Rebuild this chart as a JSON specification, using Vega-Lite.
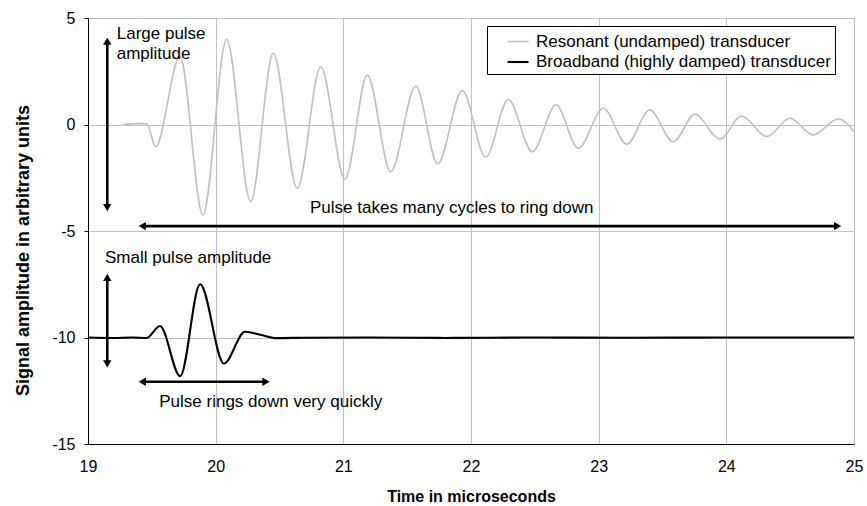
{
  "$schema": "https://vega.github.io/schema/vega-lite/v6.json",
  "width": 766,
  "height": 426,
  "autosize": {"type": "none"},
  "padding": {"left": 88, "top": 18, "right": 13, "bottom": 62},
  "background": "white",
  "datasets": {
    "signal": [
      {"t": 19.0, "amp": -10.0, "series": "Broadband (highly damped) transducer"},
      {"t": 19.2, "amp": -10.02, "series": "Broadband (highly damped) transducer"},
      {"t": 19.35, "amp": -10.0, "series": "Broadband (highly damped) transducer"},
      {"t": 19.46, "amp": -10.02, "series": "Broadband (highly damped) transducer"},
      {"t": 19.564, "amp": -9.46, "series": "Broadband (highly damped) transducer"},
      {"t": 19.722, "amp": -11.82, "series": "Broadband (highly damped) transducer"},
      {"t": 19.878, "amp": -7.5, "series": "Broadband (highly damped) transducer"},
      {"t": 20.065, "amp": -11.22, "series": "Broadband (highly damped) transducer"},
      {"t": 20.23, "amp": -9.73, "series": "Broadband (highly damped) transducer"},
      {"t": 20.35, "amp": -9.87, "series": "Broadband (highly damped) transducer"},
      {"t": 20.48, "amp": -10.03, "series": "Broadband (highly damped) transducer"},
      {"t": 20.7, "amp": -10.01, "series": "Broadband (highly damped) transducer"},
      {"t": 21.2, "amp": -10.0, "series": "Broadband (highly damped) transducer"},
      {"t": 21.8, "amp": -10.02, "series": "Broadband (highly damped) transducer"},
      {"t": 22.5, "amp": -10.0, "series": "Broadband (highly damped) transducer"},
      {"t": 23.2, "amp": -10.01, "series": "Broadband (highly damped) transducer"},
      {"t": 24.0, "amp": -10.0, "series": "Broadband (highly damped) transducer"},
      {"t": 25.0, "amp": -10.0, "series": "Broadband (highly damped) transducer"},
      {"t": 19.276, "amp": 0.0, "series": "Resonant (undamped) transducer"},
      {"t": 19.4, "amp": 0.04, "series": "Resonant (undamped) transducer"},
      {"t": 19.46, "amp": 0.03, "series": "Resonant (undamped) transducer"},
      {"t": 19.53, "amp": -1.04, "series": "Resonant (undamped) transducer"},
      {"t": 19.72, "amp": 3.2, "series": "Resonant (undamped) transducer"},
      {"t": 19.9, "amp": -4.25, "series": "Resonant (undamped) transducer"},
      {"t": 20.086, "amp": 4.0, "series": "Resonant (undamped) transducer"},
      {"t": 20.274, "amp": -3.62, "series": "Resonant (undamped) transducer"},
      {"t": 20.451, "amp": 3.34, "series": "Resonant (undamped) transducer"},
      {"t": 20.639, "amp": -3.0, "series": "Resonant (undamped) transducer"},
      {"t": 20.823, "amp": 2.71, "series": "Resonant (undamped) transducer"},
      {"t": 21.013, "amp": -2.57, "series": "Resonant (undamped) transducer"},
      {"t": 21.188, "amp": 2.32, "series": "Resonant (undamped) transducer"},
      {"t": 21.371, "amp": -2.22, "series": "Resonant (undamped) transducer"},
      {"t": 21.567, "amp": 1.81, "series": "Resonant (undamped) transducer"},
      {"t": 21.739, "amp": -1.85, "series": "Resonant (undamped) transducer"},
      {"t": 21.932, "amp": 1.59, "series": "Resonant (undamped) transducer"},
      {"t": 22.115, "amp": -1.54, "series": "Resonant (undamped) transducer"},
      {"t": 22.292, "amp": 1.18, "series": "Resonant (undamped) transducer"},
      {"t": 22.48, "amp": -1.28, "series": "Resonant (undamped) transducer"},
      {"t": 22.666, "amp": 0.92, "series": "Resonant (undamped) transducer"},
      {"t": 22.84, "amp": -1.12, "series": "Resonant (undamped) transducer"},
      {"t": 23.036, "amp": 0.76, "series": "Resonant (undamped) transducer"},
      {"t": 23.22, "amp": -0.92, "series": "Resonant (undamped) transducer"},
      {"t": 23.4, "amp": 0.68, "series": "Resonant (undamped) transducer"},
      {"t": 23.584, "amp": -0.81, "series": "Resonant (undamped) transducer"},
      {"t": 23.754, "amp": 0.48, "series": "Resonant (undamped) transducer"},
      {"t": 23.95, "amp": -0.69, "series": "Resonant (undamped) transducer"},
      {"t": 24.12, "amp": 0.4, "series": "Resonant (undamped) transducer"},
      {"t": 24.316, "amp": -0.57, "series": "Resonant (undamped) transducer"},
      {"t": 24.499, "amp": 0.29, "series": "Resonant (undamped) transducer"},
      {"t": 24.681, "amp": -0.49, "series": "Resonant (undamped) transducer"},
      {"t": 24.877, "amp": 0.26, "series": "Resonant (undamped) transducer"},
      {"t": 25.0, "amp": -0.34, "series": "Resonant (undamped) transducer"}
    ],
    "arrows": [
      {"t": 19.151, "t2": 19.151, "amp": 3.92, "amp2": -3.9},
      {"t": 19.425, "t2": 24.872, "amp": -4.77, "amp2": -4.77},
      {"t": 19.151, "t2": 19.151, "amp": -7.18, "amp2": -11.24},
      {"t": 19.425, "t2": 20.394, "amp": -12.08, "amp2": -12.08}
    ],
    "heads": [
      {"t": 19.151, "amp": 3.92, "dir": "up"},
      {"t": 19.151, "amp": -3.9, "dir": "down"},
      {"t": 19.425, "amp": -4.77, "dir": "left"},
      {"t": 24.872, "amp": -4.77, "dir": "right"},
      {"t": 19.151, "amp": -7.18, "dir": "up"},
      {"t": 19.151, "amp": -11.24, "dir": "down"},
      {"t": 19.425, "amp": -12.08, "dir": "left"},
      {"t": 20.394, "amp": -12.08, "dir": "right"}
    ],
    "labels": [
      {"t": 19.225, "amp": 4.01, "label": "Large pulse"},
      {"t": 19.225, "amp": 3.06, "label": "amplitude"},
      {"t": 20.739, "amp": -4.17, "label": "Pulse takes many cycles to ring down"},
      {"t": 19.133, "amp": -6.52, "label": "Small pulse amplitude"},
      {"t": 19.558, "amp": -13.25, "label": "Pulse rings down very quickly"}
    ]
  },
  "encoding": {
    "x": {
      "field": "t", "type": "quantitative",
      "scale": {"domain": [19, 25], "nice": false, "zero": false},
      "axis": {"title": "Time in microseconds", "values": [19, 20, 21, 22, 23, 24, 25], "ticks": false, "labelPadding": 14, "titlePadding": 14}
    },
    "y": {
      "field": "amp", "type": "quantitative",
      "scale": {"domain": [-15, 5], "nice": false, "zero": false},
      "axis": {
        "title": "Signal amplitude in arbitrary units",
        "values": [-15, -10, -5, 0, 5],
        "labelExpr": "'' + datum.value",
        "ticks": true, "tickSize": 4, "labelPadding": 9,
        "titleFontSize": 18,
        "titleX": -65, "titleY": 232, "titleAngle": -90,
        "titleAlign": "center", "titleBaseline": "middle"
      }
    }
  },
  "layer": [
    {
      "data": {"values": [{"edge": 25}]},
      "mark": {"type": "rule", "color": "#808080", "strokeWidth": 1},
      "encoding": {"x": {"field": "edge", "type": "quantitative"}, "y": {"datum": -15}, "y2": {"datum": 5}}
    },
    {
      "data": {"name": "signal"},
      "mark": {"type": "line", "interpolate": "monotone"},
      "encoding": {
        "color": {
          "field": "series", "type": "nominal",
          "scale": {"domain": ["Resonant (undamped) transducer", "Broadband (highly damped) transducer"], "range": ["#c0c0c0", "#000000"]},
          "legend": {"title": null}
        },
        "strokeWidth": {
          "field": "series", "type": "nominal",
          "scale": {"domain": ["Resonant (undamped) transducer", "Broadband (highly damped) transducer"], "range": [1.6, 2.1]},
          "legend": null
        },
        "detail": {"field": "series"}
      }
    },
    {
      "data": {"name": "arrows"},
      "mark": {"type": "rule", "color": "black", "strokeWidth": 2.6},
      "encoding": {
        "x2": {"field": "t2"},
        "y2": {"field": "amp2"}
      }
    },
    {
      "data": {"name": "heads"},
      "mark": {"type": "point", "filled": true, "color": "black", "size": 70, "opacity": 1},
      "encoding": {
        "shape": {
          "field": "dir", "type": "nominal",
          "scale": {"domain": ["up", "down", "left", "right"], "range": ["triangle-up", "triangle-down", "triangle-left", "triangle-right"]},
          "legend": null
        }
      }
    },
    {
      "data": {"name": "labels"},
      "mark": {"type": "text", "align": "left", "baseline": "alphabetic", "fontSize": 17, "font": "Liberation Sans", "color": "black"},
      "encoding": {"text": {"field": "label"}}
    }
  ],
  "config": {
    "font": "Liberation Sans",
    "view": {"stroke": "#808080"},
    "axis": {
      "grid": true,
      "gridColor": "#c0c0c0",
      "gridWidth": 1,
      "domainColor": "black",
      "domainWidth": 1,
      "tickColor": "black",
      "labelFont": "Liberation Sans",
      "labelFontSize": 16,
      "labelColor": "black",
      "titleFont": "Liberation Sans",
      "titleFontSize": 16,
      "titleFontWeight": "bold",
      "titleColor": "black",
      "labelFlush": false,
      "labelOverlap": false
    },
    "legend": {
      "orient": "none",
      "legendX": 399,
      "legendY": 8,
      "strokeColor": "black",
      "fillColor": "white",
      "padding": 4,
      "symbolType": "stroke",
      "symbolSize": 441,
      "symbolStrokeWidth": 1.6,
      "symbolOffset": 15,
      "labelOffset": 6,
      "labelFont": "Liberation Sans",
      "labelFontSize": 17,
      "labelColor": "black",
      "rowPadding": 0,
      "labelLimit": 400
    }
  }
}
